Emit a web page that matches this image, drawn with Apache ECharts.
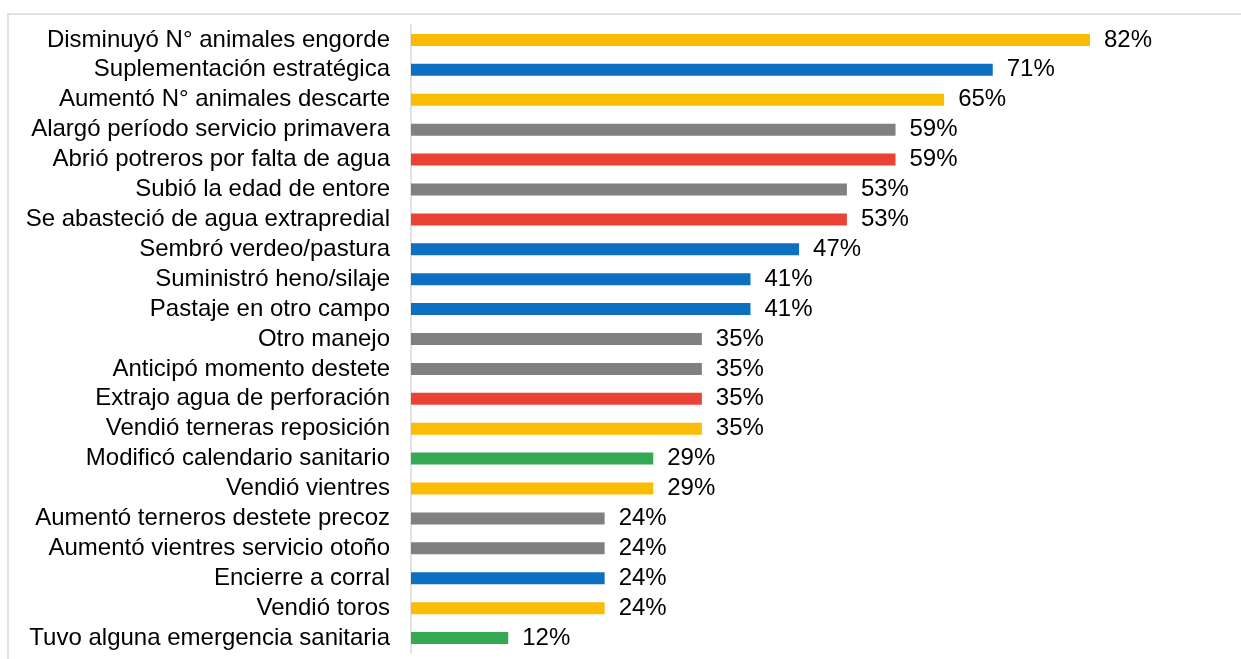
<!DOCTYPE html>
<html>
<head>
<meta charset="utf-8">
<script src="https://cdn.jsdelivr.net/npm/echarts@6/dist/echarts.min.js"></script>
<style>
html, body { margin: 0; padding: 0; background: #fff; }
#main { width: 1241px; height: 659px; }
</style>
</head>
<body>
<div id="main"></div>
<script>
var categories = [
	'Disminuyó N° animales engorde',
	'Suplementación estratégica',
	'Aumentó N° animales descarte',
	'Alargó período servicio primavera',
	'Abrió potreros por falta de agua',
	'Subió la edad de entore',
	'Se abasteció de agua extrapredial',
	'Sembró verdeo/pastura',
	'Suministró heno/silaje',
	'Pastaje en otro campo',
	'Otro manejo',
	'Anticipó momento destete',
	'Extrajo agua de perforación',
	'Vendió terneras reposición',
	'Modificó calendario sanitario',
	'Vendió vientres',
	'Aumentó terneros destete precoz',
	'Aumentó vientres servicio otoño',
	'Encierre a corral',
	'Vendió toros',
	'Tuvo alguna emergencia sanitaria'
];
var values = [82.4, 70.6, 64.7, 58.8, 58.8, 52.9, 52.9, 47.1, 41.2, 41.2, 35.3, 35.3, 35.3, 35.3, 29.4, 29.4, 23.5, 23.5, 23.5, 23.5, 11.8];
// grupo de cada medida: y = amarillo, b = azul, g = gris, r = rojo, v = verde
var groups = ['y', 'b', 'y', 'g', 'r', 'g', 'r', 'b', 'b', 'b', 'g', 'g', 'r', 'y', 'v', 'y', 'g', 'g', 'b', 'y', 'v'];
var groupColors = {y: '#FBBC04', b: '#0B70C1', g: '#808080', r: '#EA4335', v: '#34A853'};

var myChart = echarts.init(document.getElementById('main'));
var data = [];
for (var i = 0; i < values.length; i++) {
	data.push({value: values[i], itemStyle: {color: groupColors[groups[i]]}});
}
var option = {
	animation: false,
	graphic: [{
		type: 'rect',
		shape: {x: 8, y: 14, width: 1300, height: 700},
		style: {fill: 'none', stroke: '#d9d9d9', lineWidth: 1.5}
	}],
	grid: {left: 411, right: 6, top: 25, bottom: 6},
	xAxis: {type: 'value', min: 0, max: 100, show: false},
	yAxis: {
		type: 'category',
		inverse: true,
		data: categories,
		axisTick: {show: false},
		axisLine: {lineStyle: {color: '#d9d9d9', width: 1.5}},
		axisLabel: {interval: 0, color: '#000', fontSize: 24, fontFamily: 'Liberation Sans, Arial', margin: 21}
	},
	series: [{
		type: 'bar',
		data: data,
		barWidth: 12,
		label: {
			show: true,
			position: 'right',
			distance: 14,
			color: '#000',
			fontSize: 24,
			fontFamily: 'Liberation Sans, Arial',
			formatter: function (p) {
				return Math.round(p.value) + '%';
			}
		}
	}]
};
myChart.setOption(option);
</script>
</body>
</html>
